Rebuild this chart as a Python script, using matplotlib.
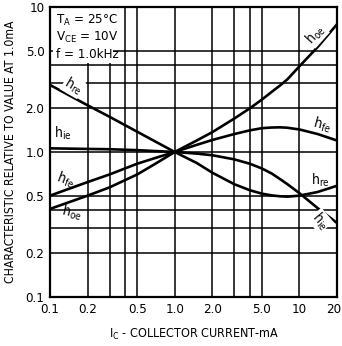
import matplotlib
matplotlib.use("Agg")
import matplotlib.pyplot as plt
from matplotlib.patches import Rectangle
from matplotlib.transforms import ScaledTranslation

plt.rcParams['font.family'] = ['DejaVu Sans']
plt.rcParams['font.stretch'] = 'condensed'
plt.rcParams['mathtext.default'] = 'regular'

# Collector current (mA) and normalized h-parameters
ic = [0.1, 0.2, 0.3, 0.5, 0.7, 1.0, 1.5, 2.0, 3.0, 4.0, 5.0, 6.0, 7.0, 8.0, 10, 14, 20]
h_oe = [0.405, 0.5, 0.57, 0.70, 0.83, 1.0, 1.2, 1.37, 1.7, 2.0, 2.3, 2.6, 2.88, 3.17, 3.9, 5.3, 7.6]
h_fe = [0.5, 0.62, 0.7, 0.83, 0.91, 1.0, 1.12, 1.21, 1.33, 1.41, 1.46, 1.475, 1.48, 1.47, 1.43, 1.33, 1.2]
h_re = [2.9, 2.1, 1.75, 1.38, 1.18, 1.0, 0.84, 0.72, 0.6, 0.545, 0.516, 0.502, 0.495, 0.492, 0.5, 0.53, 0.585]
h_ie = [1.06, 1.05, 1.045, 1.03, 1.015, 1.0, 0.975, 0.95, 0.89, 0.83, 0.77, 0.71, 0.65, 0.60, 0.52, 0.41, 0.324]

x_ticks = [0.1, 0.2, 0.5, 1.0, 2.0, 5.0, 10, 20]
x_tick_labels = ["0.1", "0.2", "0.5", "1.0", "2.0", "5.0", "10", "20"]
y_ticks = [0.1, 0.2, 0.5, 1.0, 2.0, 5.0, 10]
y_tick_labels = ["0.1", "0.2", "0.5", "1.0", "2.0", "5.0", "10"]
x_grid = [0.2, 0.3, 0.4, 0.5, 1.0, 2.0, 3.0, 4.0, 5.0, 10]
y_grid = [0.2, 0.3, 0.4, 0.5, 1.0, 2.0, 3.0, 4.0, 5.0]

fig = plt.figure(figsize=(3.42, 3.46), dpi=100)
ax = fig.add_axes([50 / 342, 1 - 297 / 346, 287 / 342, 290 / 346])
ax.set_xscale('log')
ax.set_yscale('log')
ax.set_xlim(0.1, 20)
ax.set_ylim(0.1, 10)

for g in x_grid:
    ax.axvline(g, color='black', lw=1.1, zorder=1)
for g in y_grid:
    ax.axhline(g, color='black', lw=1.1, zorder=1)

# blank panel behind the test-condition text
ax.add_patch(Rectangle((0.0105, 0.807), 0.209, 0.2, transform=ax.transAxes,
                       facecolor='white', edgecolor='none', zorder=2))

for series in (h_oe, h_fe, h_re, h_ie):
    ax.plot(ic, series, color='black', lw=1.9, zorder=3, solid_capstyle='butt',
            solid_joinstyle='round')

ax.set_xticks(x_ticks)
ax.set_xticklabels(x_tick_labels)
ax.set_yticks(y_ticks)
ax.set_yticklabels(y_tick_labels)
ax.minorticks_off()
ax.tick_params(length=0, labelsize=9.5, pad=4)
last = ax.get_xticklabels()[-1]
last.set_transform(last.get_transform() + ScaledTranslation(-3 / 100, 0, fig.dpi_scale_trans))
for s in ax.spines.values():
    s.set_linewidth(1.6)
    s.set_zorder(5)

ax.set_xlabel(r"I$_{C}$ - COLLECTOR CURRENT-mA", fontsize=9, labelpad=8)
ax.set_ylabel("CHARACTERISTIC RELATIVE TO VALUE AT 1.0mA", fontsize=8.7, labelpad=6)

cond = dict(transform=ax.transAxes, fontsize=9.5, ha='left', va='center', zorder=6)
ax.text(0.02, 0.955, r"T$_{A}$ = 25°C", **cond)
ax.text(0.02, 0.895, r"V$_{CE}$ = 10V", **cond)
ax.text(0.02, 0.835, "f = 1.0kHz", **cond)

lab = dict(fontsize=10, ha='center', va='center', zorder=6)
box = dict(facecolor='white', edgecolor='none', pad=0.5)
ax.text(0.153, 2.85, r"h$_{re}$", rotation=-30, bbox=box, **lab)
ax.text(0.127, 1.35, r"h$_{ie}$", **lab)
ax.text(0.134, 0.64, r"h$_{fe}$", rotation=-20, **lab)
ax.text(0.15, 0.38, r"h$_{oe}$", rotation=-12, **lab)
ax.text(13.5, 6.5, r"h$_{oe}$", rotation=48, bbox=box, **lab)
ax.text(15.2, 1.53, r"h$_{fe}$", rotation=-15, **lab)
ax.text(14.7, 0.64, r"h$_{re}$", **lab)
ax.text(14.7, 0.335, r"h$_{ie}$", rotation=-50, bbox=box, **lab)

fig.savefig("out.png", dpi=100)
